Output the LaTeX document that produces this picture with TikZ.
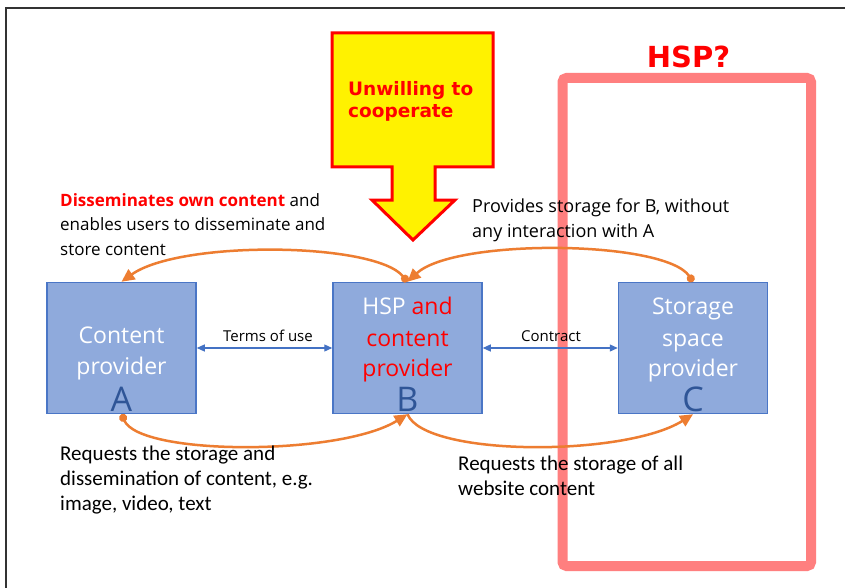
\documentclass[tikz,border=0pt]{standalone}
\usepackage{fontspec}
\setmainfont{Open Sans}
\newfontfamily\calfont{Carlito}
\newfontfamily\vfont{DejaVu Sans}
\usetikzlibrary{arrows.meta}
\definecolor{boxfill}{HTML}{8FAADC}
\definecolor{boxline}{HTML}{4A76C6}
\definecolor{letterblue}{HTML}{2F5597}
\definecolor{arcorange}{HTML}{ED7D31}
\definecolor{pinkred}{HTML}{FF7F7F}
\definecolor{pureRed}{HTML}{FF0000}
\definecolor{arrowblue}{HTML}{4472C4}
\begin{document}
\begin{tikzpicture}[x=1pt,y=-1pt,
 provbox/.style={draw=boxline, line width=1.5pt, fill=boxfill, minimum width=149pt, minimum height=131pt, inner sep=0pt},
 boxtext/.style={text=white, font=\fontsize{23}{30}\selectfont, inner sep=0pt, anchor=base},
 bigletter/.style={text=letterblue, font=\fontsize{34}{34}\selectfont, inner sep=0pt, anchor=base},
 note/.style={font=\fontsize{17}{24.5}\selectfont, align=left, inner sep=0pt, anchor=base west},
 cnote/.style={font=\calfont\fontsize{21}{25}\selectfont, align=left, inner sep=0pt, anchor=base west},
 relarc/.style={draw=arcorange, line width=2.5pt, -{Triangle[length=13pt,width=12pt]}},
 dotarc/.style={draw=arcorange, line width=2.5pt, {Circle[length=8pt]}-{Triangle[length=13pt,width=12pt]}},
 duo/.style={draw=arrowblue, line width=1.2pt, {Triangle[length=8pt,width=7pt]}-{Triangle[length=8pt,width=7pt]}},
 smalllabel/.style={font=\fontsize{15}{15}\selectfont, inner sep=0pt, anchor=base}
]
\useasboundingbox (0,0) rectangle (845,588);
\fill[white] (0,0) rectangle (845,588);
% outer frame
\draw[color=black!80, line width=2pt] (6,588) |- (845,8);
% pink HSP? frame
\draw[pinkred, line width=10pt, rounded corners=4pt] (562.5,78) rectangle (811,566);
\node[font=\vfont\bfseries\fontsize{29}{29}\selectfont, text=pureRed, anchor=base, inner sep=0pt] (hspq) at (688.5,68) {HSP?};
% yellow arrow
\draw[draw=pureRed, fill=yellow, line width=3pt, line join=miter]
  (332,33) -- (493,33) -- (493,167) -- (435,167) -- (435,200) -- (455,200) -- (413,240)
  -- (372,200) -- (392,200) -- (392,167) -- (332,167) -- cycle;
\node[font=\vfont\bfseries\fontsize{18.5}{22}\selectfont, text=pureRed, align=left, anchor=base west, inner sep=0pt] (unwill) at (348,118) {Unwilling to\\cooperate};
% boxes
\node[provbox] (A) at (121.5,348) {};
\node[provbox] (B) at (407.5,348) {};
\node[provbox] (C) at (693,348) {};
\node[boxtext] (At1) at (121.5,343) {Content};
\node[boxtext] (At2) at (121.5,374) {provider};
\node[boxtext] (Bt1) at (407.5,314) {HSP \textcolor{pureRed}{and}};
\node[boxtext, text=pureRed] (Bt2) at (407.5,346) {content};
\node[boxtext, text=pureRed] (Bt3) at (407.5,376) {provider};
\node[boxtext] (Ct1) at (693,314) {Storage};
\node[boxtext] (Ct2) at (693,346) {space};
\node[boxtext] (Ct3) at (693,376) {provider};
\node[bigletter] (Al) at (121.5,411) {A};
\node[bigletter] (Bl) at (407.5,411) {B};
\node[bigletter] (Cl) at (693,411) {C};
% blue relations
\draw[duo] (A) -- (B);
\draw[duo] (B) -- (C);
\node[smalllabel] (tou) at (268,341) {Terms of use};
\node[smalllabel] (con) at (551,341) {Contract};
% orange arcs
\draw[dotarc] (B.north) .. controls (375,242) and (180,240) .. (A.north);
\draw[dotarc] (C.north) .. controls (665,240) and (455,238) .. (B.north);
\draw[dotarc] (A.south) .. controls (140,456) and (340,456) .. (B.south);
\draw[relarc] (B.south) .. controls (425,457) and (625,457) .. (C.south);
% notes
\node[note] (n1) at (60,255) {\textcolor{pureRed}{\fontseries{sb}\selectfont Disseminates own content} and\\enables users to disseminate and\\store content};
\node[note, font=\fontsize{18}{25}\selectfont] (n2) at (472,237) {Provides storage for B, without\\any interaction with A};
\node[cnote] (n3) at (60,510) {Requests the storage and\\dissemination of content, e.g.\\image, video, text};
\node[cnote] (n4) at (458,495) {Requests the storage of all\\website content};
\end{tikzpicture}
\end{document}
